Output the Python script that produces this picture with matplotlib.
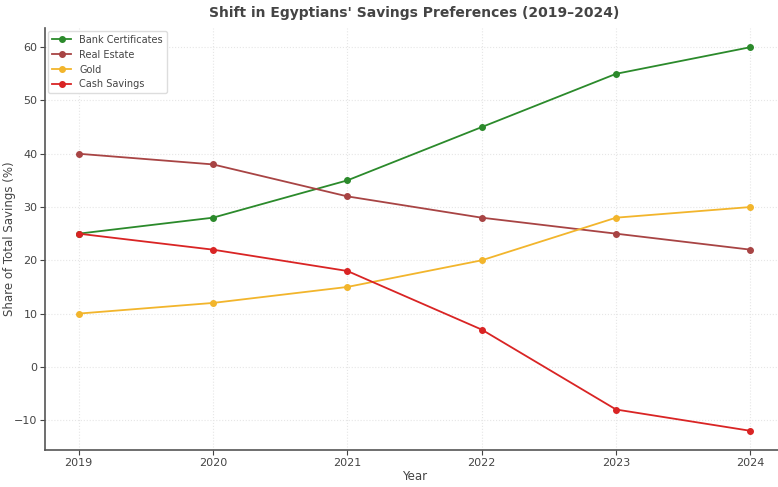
import matplotlib.pyplot as plt

years = [2019, 2020, 2021, 2022, 2023, 2024]
bank_certificates = [25, 28, 35, 45, 55, 60]
real_estate = [40, 38, 32, 28, 25, 22]
gold = [10, 12, 15, 20, 28, 30]
cash_savings = [25, 22, 18, 7, -8, -12]

series = [
    ("Bank Certificates", bank_certificates, "#2b8a2b"),
    ("Real Estate", real_estate, "#a84444"),
    ("Gold", gold, "#f2b52c"),
    ("Cash Savings", cash_savings, "#d92424"),
]

text_col = "#444444"

fig = plt.figure(figsize=(7.78, 4.87), dpi=100)
ax = fig.add_axes([45 / 778, 37 / 487, 739 / 778, 422 / 487])

for name, vals, col in series:
    ax.plot(years, vals, marker="o", markersize=4, linewidth=1.3, color=col, label=name)

ax.set_title("Shift in Egyptians' Savings Preferences (2019\u20132024)",
             fontsize=10, fontweight="bold", color=text_col, pad=8)
ax.set_xlabel("Year", fontsize=8.5, color=text_col, labelpad=2)
ax.set_ylabel("Share of Total Savings (%)", fontsize=8.5, color=text_col)
ax.yaxis.set_label_coords(-0.039, 0.5)
ax.tick_params(labelsize=8, colors=text_col, pad=2)
ax.grid(True, color="#e6e6e6", linestyle=":", linewidth=0.8)
for side in ["top", "right"]:
    ax.spines[side].set_visible(False)
for side in ["left", "bottom"]:
    ax.spines[side].set_color("#555555")
    ax.spines[side].set_linewidth(1.2)

leg = ax.legend(loc="upper left", fontsize=7, labelcolor=text_col, framealpha=1,
                edgecolor="#dddddd", borderaxespad=0.3)

fig.savefig("out.png", dpi=100)
